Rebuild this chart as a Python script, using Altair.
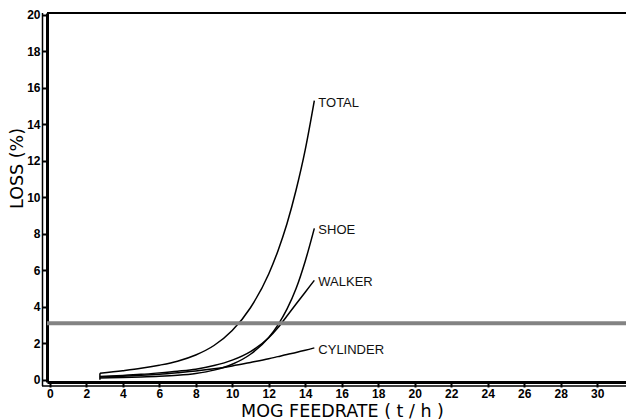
import altair as alt
import pandas as pd

# ---- data ----
feedrate = [2.75, 4, 5, 6, 7, 8, 9, 10, 11, 12, 12.5, 13, 13.5, 14, 14.5]
total    = [0.36, 0.50, 0.63, 0.80, 1.02, 1.36, 1.88, 2.70, 3.95, 5.80, 7.05, 8.55, 10.40, 12.60, 15.30]
shoe     = [0.10, 0.12, 0.15, 0.19, 0.25, 0.35, 0.53, 0.85, 1.40, 2.32, 3.00, 3.87, 5.00, 6.50, 8.30]
walker   = [0.18, 0.24, 0.30, 0.38, 0.47, 0.58, 0.78, 1.08, 1.55, 2.30, 2.85, 3.50, 4.15, 4.80, 5.45]
cylinder = [0.15, 0.20, 0.25, 0.31, 0.39, 0.48, 0.60, 0.76, 0.95, 1.15, 1.27, 1.39, 1.50, 1.62, 1.75]
series_names = ["TOTAL", "SHOE", "WALKER", "CYLINDER"]
limit_level = [3.1]
x_ticks = list(range(0, 33, 2))
y_ticks = list(range(0, 21, 2))

series_values = [total, shoe, walker, cylinder]
rows = []
for name, vals in zip(series_names, series_values):
    for xv, yv in zip(feedrate, vals):
        rows.append({"series": name, "feed": xv, "loss": yv})
df = pd.DataFrame(rows)
ends = pd.DataFrame({"series": series_names,
                     "feed": [feedrate[-1]] * 4,
                     "loss": [v[-1] for v in series_values]})
band_df = pd.DataFrame({"feed": [0.0], "loss": limit_level})
start_df = pd.DataFrame({"feed": [feedrate[0]], "loss": [0.0], "loss2": [total[0]]})

W, H = 579, 369
tick_font = "Liberation Sans Narrow, Liberation Sans, Arial, sans-serif"
title_font = "DejaVu Sans, sans-serif"

xscale = alt.Scale(domain=[-0.15, 31.58], nice=False, zero=False)
yscale = alt.Scale(domain=[-0.12, 20.1], nice=False, zero=False)

xaxis = alt.Axis(values=x_ticks, title="MOG FEEDRATE ( t / h )", grid=False,
                 domainColor="black", domainWidth=3, tickColor="black", tickWidth=2,
                 tickSize=5, labelFont=tick_font, labelFontWeight="bold", labelFontSize=12,
                 labelColor="black", labelPadding=1, labelFlush=False, labelOverlap=False,
                 titleFont=title_font, titleFontSize=17.5, titleFontWeight="normal",
                 titleColor="black", titleBaseline="alphabetic", titleY=34, titleX=295)
yaxis = alt.Axis(values=y_ticks, title="LOSS (%)", grid=False,
                 domainColor="black", domainWidth=3, tickColor="black", tickWidth=2,
                 tickSize=5, labelFont=tick_font, labelFontWeight="bold", labelFontSize=12,
                 labelColor="black", labelPadding=2, labelFlush=False, labelOverlap=False,
                 titleFont=title_font, titleFontSize=17.5, titleFontWeight="normal",
                 titleColor="black", titleAngle=270, titleBaseline="middle",
                 titleX=-30, titleY=155)

X = alt.X("feed:Q", scale=xscale, axis=xaxis, title="MOG FEEDRATE ( t / h )")
Y = alt.Y("loss:Q", scale=yscale, axis=yaxis, title="LOSS (%)")

lines = alt.Chart(df).mark_line(color="black", strokeWidth=1.5, interpolate="monotone").encode(
    x=X, y=Y, detail="series:N")

band = alt.Chart(band_df).mark_rule(color="#838383", strokeWidth=3.8).encode(y=Y)

start = alt.Chart(start_df).mark_rule(color="black", strokeWidth=1.5).encode(
    x=X, y=Y, y2="loss2:Q")

labels = alt.Chart(ends).mark_text(align="left", baseline="middle", dx=4, dy=2,
                                   font="Liberation Sans, Arial, sans-serif",
                                   fontSize=13, color="#111").encode(
    x=X, y=Y, text="series:N")

one = pd.DataFrame({"a": [0]})
top_line = alt.Chart(one).mark_rule(color="black", strokeWidth=2).encode(
    x=alt.value(0), x2=alt.value(W), y=alt.value(0))
bottom_thin = alt.Chart(one).mark_rule(color="black", strokeWidth=1.5).encode(
    x=alt.value(-5), x2=alt.value(W), y=alt.value(H + 4))
left_thin = alt.Chart(one).mark_rule(color="black", strokeWidth=1.5).encode(
    x=alt.value(-4.5), y=alt.value(0), y2=alt.value(H + 4))

chart = alt.layer(lines, band, start, labels, top_line, bottom_thin, left_thin).properties(
    width=W, height=H,
    autosize=alt.AutoSizeParams(type="none"),
    padding={"left": 39, "top": 5, "right": 0, "bottom": 37},
).configure_view(stroke=None).configure_axis(labelOverlap=False).configure(background="white")

chart.save("out.html", embed_options={"renderer": "svg", "actions": False})
